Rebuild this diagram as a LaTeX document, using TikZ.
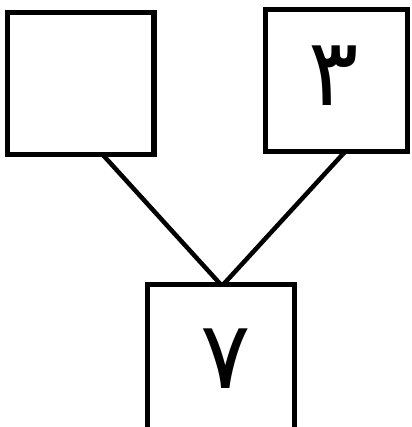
\documentclass[tikz,border=0pt]{standalone}
\usepackage{fontspec}
\newfontfamily\arabicfont[Script=Arabic]{DejaVu Sans}
\TeXXeTstate=1
\begin{document}
\begin{tikzpicture}[x=1pt,y=-1pt,
  boxnode/.style={draw=black,line width=5.5pt,inner sep=0pt,fill=white},
  digit/.style={font=\arabicfont\fontsize{94}{96}\selectfont},
  link/.style={draw=black,line width=4.5pt}]
\useasboundingbox (0,0) rectangle (411,427);
\clip (0,0) rectangle (411,427);
\node[boxnode,minimum width=146.5pt,minimum height=142pt] (b1) at (80.75,83.5) {};
\node[boxnode,minimum width=142pt,minimum height=142pt] (b2) at (336.5,80.5) {};
\node[boxnode,minimum width=147pt,minimum height=147pt] (b3) at (221,358) {};
\node[digit] (t2) at (334,76) {\beginR ۳\endR};
\node[digit] (t3) at (226,359) {\beginR ۷\endR};
\draw[link] ([xshift=22pt,yshift=2.5pt]b1.south) -- ([xshift=-0.5pt,yshift=-2.5pt]b3.north);
\draw[link] ([xshift=8.5pt,yshift=2.5pt]b2.south) -- ([xshift=2.5pt,yshift=-2.5pt]b3.north);
\end{tikzpicture}
\end{document}
